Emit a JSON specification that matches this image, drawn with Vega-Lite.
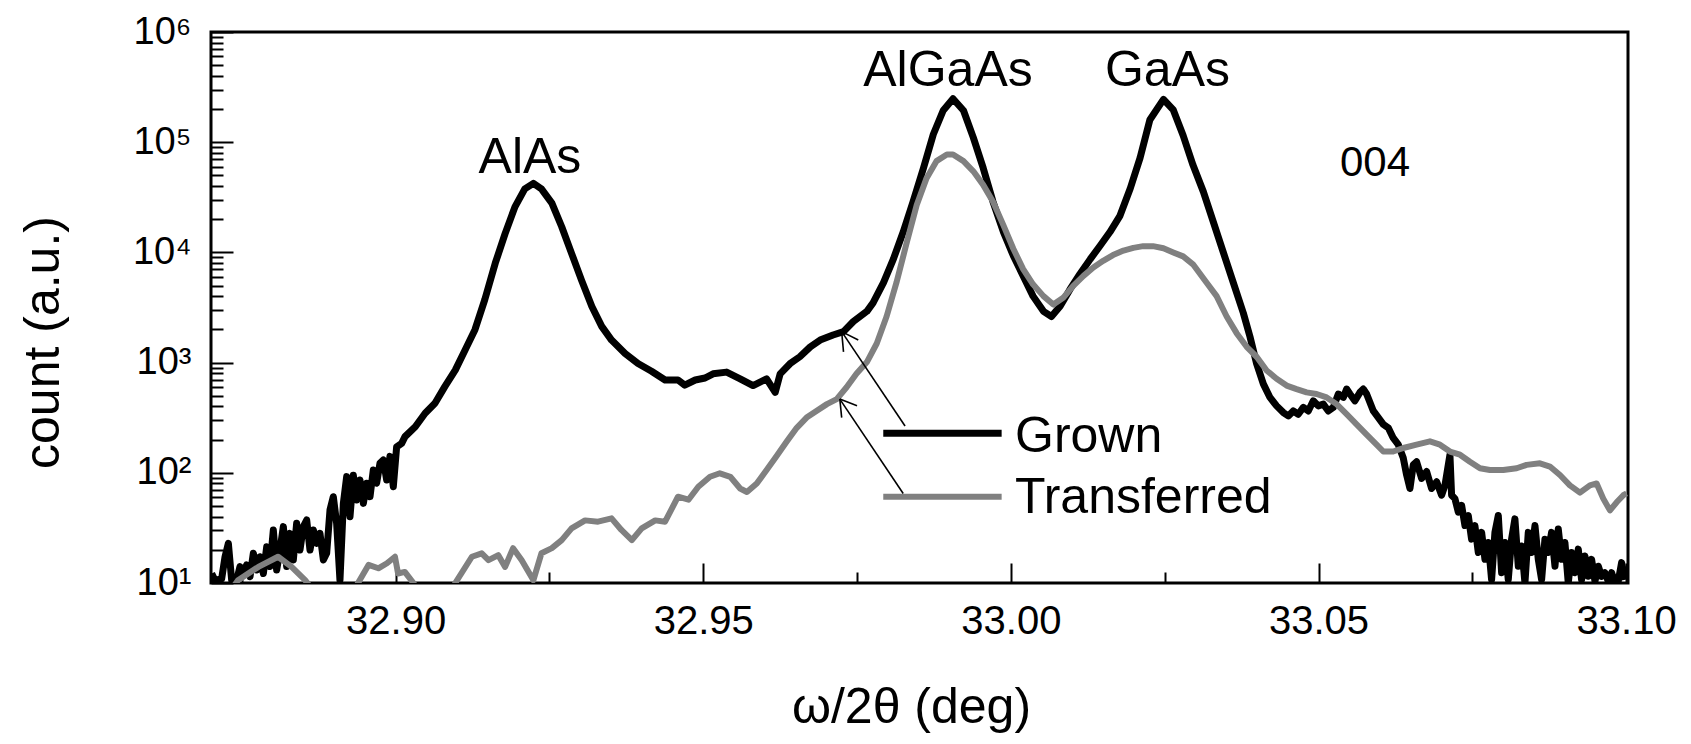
{
"$schema": "https://vega.github.io/schema/vega-lite/v6.json",
"width": 1417, "height": 551,
"autosize": "none",
"padding": {"left": 211, "top": 32, "right": 63, "bottom": 161},
"background": "white",
"config": {"view": {"stroke": "black", "strokeWidth": 3}, "text": {"font": "Liberation Sans"}, "axis": {"labelFont": "Liberation Sans", "titleFont": "Liberation Sans", "labelColor": "black", "titleColor": "black", "tickColor": "black", "grid": false}},
"datasets": {
"grown": [{"x":32.87011,"y":12.2},{"x":32.87065,"y":10.6},{"x":32.87173,"y":10.9},{"x":32.87228,"y":17.3},{"x":32.87282,"y":22.9},{"x":32.87336,"y":10.6},{"x":32.87417,"y":10.6},{"x":32.87471,"y":14.1},{"x":32.87525,"y":12.2},{"x":32.8758,"y":14.6},{"x":32.87634,"y":11.4},{"x":32.87688,"y":18.6},{"x":32.87742,"y":13.1},{"x":32.87796,"y":17.3},{"x":32.87851,"y":12.2},{"x":32.87905,"y":21.3},{"x":32.87959,"y":14.1},{"x":32.88013,"y":30.3},{"x":32.88067,"y":13.1},{"x":32.88121,"y":19.9},{"x":32.88176,"y":32.5},{"x":32.8823,"y":14.1},{"x":32.88284,"y":28.2},{"x":32.88338,"y":16.2},{"x":32.88392,"y":34.8},{"x":32.88446,"y":19.9},{"x":32.88501,"y":32.5},{"x":32.88555,"y":37.3},{"x":32.88609,"y":19.9},{"x":32.88663,"y":30.3},{"x":32.88717,"y":22.9},{"x":32.88771,"y":28.2},{"x":32.88826,"y":16.2},{"x":32.8888,"y":18.6},{"x":32.88934,"y":46},{"x":32.88988,"y":60.7},{"x":32.89042,"y":34.8},{"x":32.89096,"y":10.6},{"x":32.89151,"y":52.8},{"x":32.89205,"y":92.3},{"x":32.89259,"y":40},{"x":32.89313,"y":95},{"x":32.89367,"y":56.6},{"x":32.89421,"y":86},{"x":32.89476,"y":52.8},{"x":32.8953,"y":80.3},{"x":32.89584,"y":60.7},{"x":32.89638,"y":106},{"x":32.89692,"y":80.3},{"x":32.89746,"y":122},{"x":32.89801,"y":131},{"x":32.89855,"y":86},{"x":32.89909,"y":141},{"x":32.89963,"y":74.8},{"x":32.90017,"y":172},{"x":32.90099,"y":185},{"x":32.90153,"y":213},{"x":32.9032,"y":262},{"x":32.9048,"y":347},{"x":32.9064,"y":427},{"x":32.908,"y":605},{"x":32.9097,"y":855},{"x":32.9113,"y":1300},{"x":32.9129,"y":1990},{"x":32.9145,"y":3730},{"x":32.9162,"y":7980},{"x":32.9178,"y":14800},{"x":32.9194,"y":25900},{"x":32.921,"y":37700},{"x":32.9224,"y":42300},{"x":32.9237,"y":37700},{"x":32.9254,"y":28000},{"x":32.927,"y":17100},{"x":32.9286,"y":9800},{"x":32.9302,"y":5630},{"x":32.9319,"y":3230},{"x":32.9335,"y":2130},{"x":32.9351,"y":1600},{"x":32.9373,"y":1210},{"x":32.9394,"y":980},{"x":32.9416,"y":835},{"x":32.9438,"y":695},{"x":32.9459,"y":695},{"x":32.947,"y":625},{"x":32.9487,"y":695},{"x":32.9503,"y":725},{"x":32.9516,"y":791},{"x":32.9538,"y":820},{"x":32.956,"y":713},{"x":32.9581,"y":619},{"x":32.9603,"y":713},{"x":32.9617,"y":537},{"x":32.9625,"y":791},{"x":32.9641,"y":977},{"x":32.9657,"y":1130},{"x":32.9674,"y":1390},{"x":32.969,"y":1600},{"x":32.9711,"y":1780},{"x":32.9728,"y":1910},{"x":32.9744,"y":2360},{"x":32.9766,"y":2920},{"x":32.9776,"y":3480},{"x":32.9793,"y":5310},{"x":32.9809,"y":8690},{"x":32.9825,"y":15300},{"x":32.9841,"y":28800},{"x":32.9858,"y":58400},{"x":32.9874,"y":118000},{"x":32.989,"y":194000},{"x":32.9906,"y":248000},{"x":32.9923,"y":194000},{"x":32.9939,"y":110000},{"x":32.9955,"y":58400},{"x":32.9971,"y":28800},{"x":32.9988,"y":15300},{"x":33.0004,"y":9330},{"x":33.002,"y":6120},{"x":33.0036,"y":4010},{"x":33.0053,"y":2920},{"x":33.0066,"y":2620},{"x":33.008,"y":3240},{"x":33.0096,"y":4610},{"x":33.0112,"y":6340},{"x":33.0129,"y":8690},{"x":33.0145,"y":11500},{"x":33.0161,"y":15300},{"x":33.0177,"y":21300},{"x":33.0194,"y":38000},{"x":33.021,"y":72000},{"x":33.0226,"y":160000},{"x":33.0248,"y":245000},{"x":33.0264,"y":196000},{"x":33.028,"y":115000},{"x":33.0296,"y":62000},{"x":33.03128,"y":35600},{"x":33.0329,"y":18900},{"x":33.03453,"y":10000},{"x":33.03615,"y":5310},{"x":33.03778,"y":2820},{"x":33.03886,"y":1720},{"x":33.03994,"y":977},{"x":33.04103,"y":641},{"x":33.04211,"y":483},{"x":33.04319,"y":405},{"x":33.04428,"y":352},{"x":33.04509,"y":328},{"x":33.0459,"y":364},{"x":33.04671,"y":340},{"x":33.04753,"y":392},{"x":33.04834,"y":364},{"x":33.04915,"y":450},{"x":33.04996,"y":405},{"x":33.05078,"y":420},{"x":33.05159,"y":364},{"x":33.0524,"y":392},{"x":33.05322,"y":519},{"x":33.05403,"y":483},{"x":33.05457,"y":575},{"x":33.05511,"y":519},{"x":33.05592,"y":450},{"x":33.05674,"y":537},{"x":33.05728,"y":575},{"x":33.05782,"y":519},{"x":33.05891,"y":364},{"x":33.05972,"y":317},{"x":33.06053,"y":275},{"x":33.06134,"y":256},{"x":33.06214,"y":207},{"x":33.06297,"y":180},{"x":33.06378,"y":136},{"x":33.06432,"y":95.5},{"x":33.06486,"y":72},{"x":33.0654,"y":118},{"x":33.06594,"y":126},{"x":33.06676,"y":89},{"x":33.06757,"y":102.6},{"x":33.06838,"y":72},{"x":33.0692,"y":83},{"x":33.07001,"y":62.6},{"x":33.07055,"y":77},{"x":33.07136,"y":145.6},{"x":33.07163,"y":62.6},{"x":33.07217,"y":58.3},{"x":33.07272,"y":44},{"x":33.07326,"y":50.6},{"x":33.0738,"y":33.2},{"x":33.07434,"y":41},{"x":33.07488,"y":25},{"x":33.07542,"y":33.2},{"x":33.07597,"y":18.9},{"x":33.07651,"y":28.8},{"x":33.07705,"y":16.4},{"x":33.07759,"y":23.3},{"x":33.07813,"y":10.7},{"x":33.07867,"y":28.8},{"x":33.07922,"y":41},{"x":33.07976,"y":12.4},{"x":33.0803,"y":23.3},{"x":33.08084,"y":10.7},{"x":33.08138,"y":25},{"x":33.08192,"y":38.2},{"x":33.08247,"y":14.2},{"x":33.08301,"y":21.7},{"x":33.08355,"y":10},{"x":33.08409,"y":28.8},{"x":33.08463,"y":18.9},{"x":33.08518,"y":33.2},{"x":33.08572,"y":16.4},{"x":33.08626,"y":10.7},{"x":33.0868,"y":25},{"x":33.08734,"y":18.9},{"x":33.08788,"y":28.8},{"x":33.08843,"y":14.2},{"x":33.08897,"y":30.9},{"x":33.08951,"y":16.4},{"x":33.09005,"y":23.3},{"x":33.09059,"y":10},{"x":33.09113,"y":18.9},{"x":33.09168,"y":12.4},{"x":33.09222,"y":20.3},{"x":33.09276,"y":10.7},{"x":33.0933,"y":17.6},{"x":33.09384,"y":11.5},{"x":33.09438,"y":16.4},{"x":33.09493,"y":10.4},{"x":33.09547,"y":14.2},{"x":33.09601,"y":11.5},{"x":33.09655,"y":12.4},{"x":33.09709,"y":10.4},{"x":33.09763,"y":12.4},{"x":33.09818,"y":10},{"x":33.09872,"y":10.4},{"x":33.09926,"y":15.3},{"x":33.0998,"y":10.7}],
"transferred": [{"x":32.87,"y":8},{"x":32.8735,"y":9},{"x":32.8744,"y":10.6},{"x":32.8777,"y":14},{"x":32.8809,"y":17.3},{"x":32.8831,"y":14},{"x":32.8853,"y":10.6},{"x":32.887,"y":8},{"x":32.893,"y":8},{"x":32.8939,"y":10},{"x":32.8956,"y":14.6},{"x":32.8972,"y":13.6},{"x":32.8986,"y":15.1},{"x":32.8999,"y":17.3},{"x":32.9004,"y":12.2},{"x":32.9015,"y":12.6},{"x":32.9029,"y":10},{"x":32.904,"y":8},{"x":32.909,"y":8},{"x":32.9097,"y":10},{"x":32.9124,"y":17.3},{"x":32.914,"y":18.6},{"x":32.9151,"y":16.1},{"x":32.9167,"y":17.9},{"x":32.9178,"y":14},{"x":32.9191,"y":20.7},{"x":32.9205,"y":16.1},{"x":32.9224,"y":10.6},{"x":32.9237,"y":18.6},{"x":32.9254,"y":20.7},{"x":32.927,"y":24.5},{"x":32.9286,"y":31.3},{"x":32.9308,"y":37},{"x":32.9329,"y":36},{"x":32.9351,"y":38.6},{"x":32.9367,"y":30.3},{"x":32.9384,"y":24.5},{"x":32.94,"y":31.3},{"x":32.9422,"y":37},{"x":32.9438,"y":36},{"x":32.9459,"y":60.7},{"x":32.9476,"y":57},{"x":32.9492,"y":74.8},{"x":32.9511,"y":92},{"x":32.9527,"y":99},{"x":32.9544,"y":92},{"x":32.956,"y":72},{"x":32.9571,"y":67},{"x":32.9587,"y":80},{"x":32.9603,"y":106},{"x":32.9619,"y":141},{"x":32.9636,"y":193},{"x":32.9652,"y":256},{"x":32.9668,"y":317},{"x":32.9684,"y":364},{"x":32.9701,"y":420},{"x":32.9717,"y":466},{"x":32.9733,"y":597},{"x":32.9749,"y":791},{"x":32.9766,"y":1010},{"x":32.9782,"y":1490},{"x":32.9798,"y":2620},{"x":32.9814,"y":5310},{"x":32.9831,"y":12400},{"x":32.9847,"y":26900},{"x":32.9863,"y":47200},{"x":32.9879,"y":67300},{"x":32.9896,"y":77300},{"x":32.9906,"y":77300},{"x":32.9923,"y":67300},{"x":32.9939,"y":54400},{"x":32.9955,"y":41000},{"x":32.9971,"y":28800},{"x":32.9988,"y":17600},{"x":33.0004,"y":10800},{"x":33.002,"y":7050},{"x":33.0036,"y":5130},{"x":33.0053,"y":4010},{"x":33.0069,"y":3360},{"x":33.0085,"y":3870},{"x":33.0101,"y":4950},{"x":33.0118,"y":6120},{"x":33.0134,"y":7300},{"x":33.015,"y":8390},{"x":33.0166,"y":9460},{"x":33.0183,"y":10400},{"x":33.0199,"y":11000},{"x":33.0215,"y":11400},{"x":33.0231,"y":11400},{"x":33.0248,"y":10900},{"x":33.0264,"y":10000},{"x":33.028,"y":9200},{"x":33.0296,"y":7800},{"x":33.03182,"y":5310},{"x":33.03344,"y":4010},{"x":33.03507,"y":2620},{"x":33.03669,"y":1850},{"x":33.03832,"y":1390},{"x":33.03994,"y":1130},{"x":33.04157,"y":849},{"x":33.04319,"y":713},{"x":33.04482,"y":619},{"x":33.04644,"y":575},{"x":33.04807,"y":537},{"x":33.04969,"y":519},{"x":33.05132,"y":483},{"x":33.05294,"y":420},{"x":33.05457,"y":340},{"x":33.05619,"y":275},{"x":33.05782,"y":222},{"x":33.05944,"y":180},{"x":33.06053,"y":156},{"x":33.06214,"y":156},{"x":33.06378,"y":168},{"x":33.06594,"y":180},{"x":33.06811,"y":193},{"x":33.06974,"y":180},{"x":33.07136,"y":156},{"x":33.07299,"y":146},{"x":33.07461,"y":126},{"x":33.07624,"y":110},{"x":33.07786,"y":106},{"x":33.08003,"y":106},{"x":33.0822,"y":110},{"x":33.08382,"y":118},{"x":33.08599,"y":122},{"x":33.08761,"y":114},{"x":33.08924,"y":95.5},{"x":33.09086,"y":77},{"x":33.09249,"y":66},{"x":33.09411,"y":77},{"x":33.0952,"y":80},{"x":33.09628,"y":58.3},{"x":33.09737,"y":45.6},{"x":33.09845,"y":54},{"x":33.09954,"y":62.6},{"x":33.10008,"y":65}]
},
"layer": [
{
"data": {"name": "grown"},
"mark": {"type": "line", "clip": true, "strokeJoin": "round", "strokeWidth": 7, "color": "#000000"},
"encoding": {
"x": {"field": "x", "type": "quantitative", "scale": {"domain": [32.87, 33.1003], "nice": false, "zero": false},
"axis": {"orient": "bottom", "values": [32.9, 32.95, 33, 33.05, 33.1], "format": ".2f", "ticks": false, "domain": false, "labelFontSize": 40, "labelPadding": 18, "labelFlush": false, "labelOverlap": false, "title": "ω/2θ (deg)", "titleFontSize": 50, "titleFontWeight": "normal", "titleX": 700, "titleY": 124, "titleBaseline": "middle", "titleAlign": "center"}},
"y": {"field": "y", "type": "quantitative", "scale": {"type": "log", "domain": [10, 1000000], "nice": false},
"axis": {"orient": "left", "values": [10, 100, 1000, 10000, 100000, 1000000], "labelExpr": "'10' + ['⁰','¹','²','³','⁴','⁵','⁶'][round(log(datum.value)/LN10)]", "ticks": false, "domain": false, "labelFontSize": 38, "labelPadding": 20, "labelFlush": false, "labelOverlap": false, "title": "count (a.u.)", "titleFontSize": 50, "titleFontWeight": "normal", "titleX": -168, "titleY": 310, "titleAngle": -90, "titleBaseline": "middle", "titleAlign": "center"}}
}
},
{
"data": {"name": "transferred"},
"mark": {"type": "line", "clip": true, "strokeJoin": "round", "strokeWidth": 6, "color": "#808080"},
"encoding": {
"x": {"field": "x", "type": "quantitative", "scale": {"domain": [32.87, 33.1003], "nice": false, "zero": false}, "axis": null},
"y": {"field": "y", "type": "quantitative", "scale": {"type": "log", "domain": [10, 1000000], "nice": false}, "axis": null}
}
},
{
"data": {"values": [{"label": "AlAs", "x": 32.92184, "y": 52550}, {"label": "AlGaAs", "x": 32.98978, "y": 323600}, {"label": "GaAs", "x": 33.02545, "y": 323600}, {"label": "004", "x": 33.05918, "y": 48980}]},
"mark": {"type": "text", "align": "center", "baseline": "alphabetic", "font": "Liberation Sans", "color": "black"},
"encoding": {
"x": {"field": "x", "type": "quantitative", "scale": {"domain": [32.87, 33.1003], "nice": false, "zero": false},
"axis": {"orient": "bottom", "values": [32.9, 32.95, 33, 33.05, 33.1], "labels": false, "ticks": true, "tickSize": -20, "tickWidth": 2, "domain": false, "title": null}},
"y": {"field": "y", "type": "quantitative", "scale": {"type": "log", "domain": [10, 1000000], "nice": false},
"axis": {"orient": "left", "values": [10, 100, 1000, 10000, 100000, 1000000], "labels": false, "ticks": true, "tickSize": -22, "tickWidth": 2, "domain": false, "title": null}},
"text": {"field": "label"},
"size": {"condition": {"test": "datum.label === '004'", "value": 42}, "value": 50}
}
},
{
"data": {"values": [{"label": "Grown", "x": 33.00067, "y": 155.4}, {"label": "Transferred", "x": 33.00067, "y": 42.9}]},
"mark": {"type": "text", "align": "left", "baseline": "alphabetic", "font": "Liberation Sans", "fontSize": 50, "color": "black"},
"encoding": {
"x": {"field": "x", "type": "quantitative", "scale": {"domain": [32.87, 33.1003], "nice": false, "zero": false},
"axis": {"orient": "bottom", "values": [32.875, 32.925, 32.975, 33.025, 33.075], "labels": false, "ticks": true, "tickSize": -11, "tickWidth": 2, "domain": false, "title": null}},
"y": {"field": "y", "type": "quantitative", "scale": {"type": "log", "domain": [10, 1000000], "nice": false},
"axis": {"orient": "left", "values": [20,30,40,50,60,70,80,90,200,300,400,500,600,700,800,900,2000,3000,4000,5000,6000,7000,8000,9000,20000,30000,40000,50000,60000,70000,80000,90000,200000,300000,400000,500000,600000,700000,800000,900000], "labels": false, "ticks": true, "tickSize": -12, "tickWidth": 2, "domain": false, "title": null}},
"text": {"field": "label"}
}
},
{
"data": {"values": [{"series": "Grown", "x": 32.97926, "x2": 32.9985, "y": 228.2}, {"series": "Transferred", "x": 32.97926, "x2": 32.9985, "y": 60.7}]},
"mark": {"type": "rule"},
"encoding": {
"x": {"field": "x", "type": "quantitative", "scale": {"domain": [32.87, 33.1003], "nice": false, "zero": false}, "axis": null},
"x2": {"field": "x2"},
"y": {"field": "y", "type": "quantitative", "scale": {"type": "log", "domain": [10, 1000000], "nice": false}, "axis": null},
"color": {"field": "series", "type": "nominal", "scale": {"domain": ["Grown", "Transferred"], "range": ["#000000", "#808080"]}, "legend": null},
"strokeWidth": {"field": "series", "type": "nominal", "scale": {"domain": ["Grown", "Transferred"], "range": [7, 6]}, "legend": null}
}
},
{
"data": {"values": [
{"x": 32.9828, "y": 266, "x2": 32.9725, "y2": 1911},
{"x": 32.9725, "y": 1911, "x2": 32.9752, "y2": 1604},
{"x": 32.9725, "y": 1911, "x2": 32.9728, "y2": 1251},
{"x": 32.9825, "y": 64.8, "x2": 32.9722, "y2": 466.5},
{"x": 32.9722, "y": 466.5, "x2": 32.975, "y2": 405.5},
{"x": 32.9722, "y": 466.5, "x2": 32.9725, "y2": 316.9}]},
"mark": {"type": "rule", "color": "black", "strokeWidth": 1.6},
"encoding": {
"x": {"field": "x", "type": "quantitative", "scale": {"domain": [32.87, 33.1003], "nice": false, "zero": false}, "axis": null},
"x2": {"field": "x2"},
"y": {"field": "y", "type": "quantitative", "scale": {"type": "log", "domain": [10, 1000000], "nice": false}, "axis": null},
"y2": {"field": "y2"}
}
}
],
"resolve": {"axis": {"x": "independent", "y": "independent"}}
}
